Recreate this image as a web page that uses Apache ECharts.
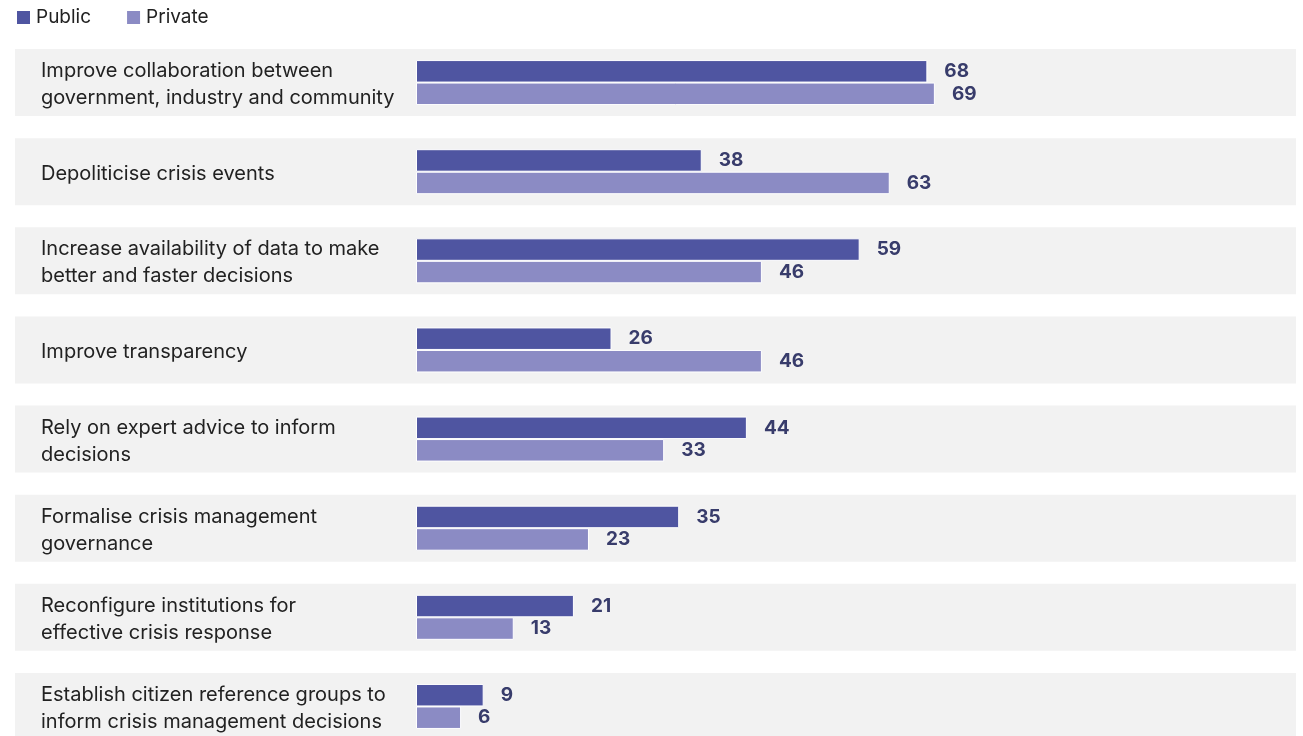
<!DOCTYPE html>
<html><head><meta charset="utf-8">
<script src="https://cdn.jsdelivr.net/npm/echarts@6/dist/echarts.min.js"></script>
<style>html,body{margin:0;padding:0;background:#fff}#c{width:1303px;height:736px}</style>
</head><body><div id="c"></div>
<script>
const categories = [
  "Improve collaboration between\ngovernment, industry and community",
  "Depoliticise crisis events",
  "Increase availability of data to make\nbetter and faster decisions",
  "Improve transparency",
  "Rely on expert advice to inform\ndecisions",
  "Formalise crisis management\ngovernance",
  "Reconfigure institutions for\neffective crisis response",
  "Establish citizen reference groups to\ninform crisis management decisions"
];
const publicValues = [68, 38, 59, 26, 44, 35, 21, 9];
const privateValues = [69, 63, 46, 46, 33, 23, 13, 6];
const seriesNames = ["Public", "Private"];

const FONT = "Inter";
const chart = echarts.init(document.getElementById('c'), null, {renderer: 'canvas'});
const gridTop = 38, gridHeight = 713;
const labelStyle = {show: true, position: 'right', distance: 17, color: '#383c6b', fontFamily: FONT, fontWeight: 'bold', fontSize: 19};
chart.setOption({
  animation: false,
  textStyle: {fontFamily: FONT},
  legend: {
    left: 15, top: 8, padding: 0, itemWidth: 15, itemHeight: 15, itemGap: 34,
    icon: 'rect',
    textStyle: {fontFamily: FONT, fontSize: 19, color: '#222'},
    data: seriesNames
  },
  grid: [
    {left: 15, right: 7, top: gridTop, height: gridHeight, outerBoundsMode: 'none', containLabel: false},
    {left: 416, right: 135, top: gridTop, height: gridHeight, outerBoundsMode: 'none', containLabel: false}
  ],
  xAxis: [
    {gridIndex: 0, type: 'value', min: 0, max: 1, show: false},
    {gridIndex: 1, type: 'value', min: 0, max: 100, show: false}
  ],
  yAxis: [
    {gridIndex: 0, type: 'category', data: categories, inverse: true, show: false},
    {gridIndex: 1, type: 'category', data: categories, inverse: true,
     axisLine: {show: false}, axisTick: {show: false}, splitLine: {show: false},
     axisLabel: {align: 'left', margin: 375, fontFamily: FONT, fontSize: 20, color: '#222', lineHeight: 27,
                 formatter: v => v.split('\n').map(l => '{t|' + l + '}').join('\n'),
                 rich: {t: {fontFamily: FONT, fontSize: 20, color: '#222', lineHeight: 27, padding: [4, 0, 0, 0]}}}}
  ],
  series: [
    {type: 'bar', xAxisIndex: 0, yAxisIndex: 0, data: categories.map(() => 0), barWidth: 67,
     showBackground: true, backgroundStyle: {color: '#f2f2f2'}, silent: true, z: 0},
    {name: seriesNames[0], type: 'bar', xAxisIndex: 1, yAxisIndex: 1, data: publicValues,
     barWidth: 22.5, barGap: '0%', itemStyle: {color: '#4f55a1', borderColor: '#fff', borderWidth: 1},
     label: labelStyle, z: 3},
    {name: seriesNames[1], type: 'bar', xAxisIndex: 1, yAxisIndex: 1, data: privateValues,
     barWidth: 22.5, barGap: '0%', itemStyle: {color: '#8b8bc4', borderColor: '#fff', borderWidth: 1},
     label: labelStyle, z: 3}
  ]
});
</script></body></html>
